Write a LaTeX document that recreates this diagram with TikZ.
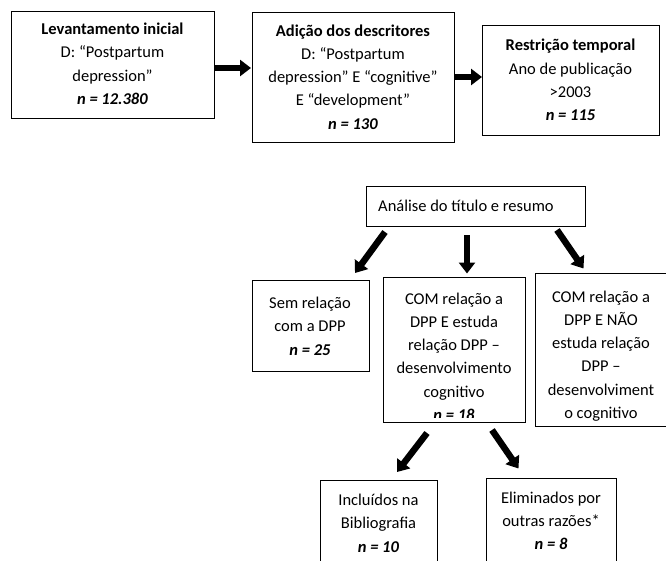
\documentclass[tikz,border=0pt]{standalone}
\usepackage{fontspec}
\setmainfont{Carlito}
\usetikzlibrary{arrows.meta}
\tikzset{
  box/.style={draw=black, line width=0.9pt, inner sep=0pt, anchor=north west},
  txt/.style={inner sep=0pt, anchor=base, text=black, font=\fontsize{16.5}{23.3}\selectfont},
  fat/.style={line width=6.5pt, -{Triangle[width=16pt,length=11pt]}},
}
\newcommand{\nb}[1]{\textbf{\textit{#1}}}
\newcommand{\lines}[1]{\setlength{\tabcolsep}{0pt}\begin{tabular}[t]{c}#1\end{tabular}}
\begin{document}
\begin{tikzpicture}[x=1pt,y=-1pt]
\useasboundingbox (0,0) rectangle (666,560);
\begin{scope}
\clip (0,0) rectangle (666,560);
% top row boxes
\node[box, minimum width=203pt, minimum height=107pt] (b1) at (11,11) {};
\node[box, minimum width=202pt, minimum height=130pt] (b2) at (252,12) {};
\node[box, minimum width=177pt, minimum height=110pt] (b3) at (482,25) {};
\node[txt] (t1) at (112.5,34.5) {\lines{\textbf{Levantamento inicial}\\D: “Postpartum\\depression”\\\nb{n = 12.380}}};
\node[txt] (t2) at (353,36) {\lines{\textbf{Adição dos descritores}\\D: “Postpartum\\depression” E “cognitive”\\E “development”\\\nb{n = 130}}};
\node[txt] (t3) at (570.5,50.7) {\lines{\textbf{Restrição temporal}\\Ano de publicação\\>2003\\\nb{n = 115}}};
% top arrows
\coordinate (a1s) at (215,68); \coordinate (a1e) at (251,68);
\coordinate (a2s) at (455,77); \coordinate (a2e) at (482,77);
\draw[fat] (a1s) -- (a1e);
\draw[fat] (a2s) -- (a2e);
% analysis box
\node[box, minimum width=219pt, minimum height=40pt] (ba) at (366,186) {};
\node[txt, anchor=base west] (ta) at (378,211.5) {Análise do título e resumo};
% second level
\node[box, minimum width=117pt, minimum height=90.5pt] (bs) at (252,280) {};
\node[txt] (ts) at (310,308.5) {\lines{Sem relação\\com a DPP\\\nb{n = 25}}};
\begin{scope}
\clip (383,277) rectangle (525,417);
\node[txt] (tm) at (454,304) {\lines{COM relação a\\DPP E estuda\\relação DPP –\\desenvolvimento\\cognitivo\\\nb{n = 18}}};
\end{scope}
\node[box, minimum width=142pt, minimum height=145pt] (bm) at (383,277) {};
\node[box, minimum width=130.5pt, minimum height=153pt] (br) at (535,273) {};
\node[txt] (tr) at (601,302) {\lines{COM relação a\\DPP E NÃO\\estuda relação\\DPP –\\desenvolviment\\o cognitivo}};
% arrows from analysis
\coordinate (l1s) at (385,232); \coordinate (l1e) at (355,273);
\coordinate (m1s) at (467,235); \coordinate (m1e) at (467,273.5);
\coordinate (r1s) at (557,230); \coordinate (r1e) at (583.5,268.5);
\draw[fat] (l1s) -- (l1e);
\draw[fat] (m1s) -- (m1e);
\draw[fat] (r1s) -- (r1e);
% third level
\node[box, minimum width=117pt, minimum height=100pt] (bi) at (320,480) {};
\node[txt] (ti) at (378.5,505.5) {\lines{Incluídos na\\Bibliografia\\\nb{n = 10}}};
\node[box, minimum width=130pt, minimum height=100pt] (be) at (486,478) {};
\node[txt] (te) at (551,503) {\lines{Eliminados por\\outras razões*\\\nb{n = 8}}};
\coordinate (l2s) at (427,433); \coordinate (l2e) at (397,472);
\coordinate (r2s) at (492,430); \coordinate (r2e) at (518.5,468.5);
\draw[fat] (l2s) -- (l2e);
\draw[fat] (r2s) -- (r2e);
\end{scope}
\end{tikzpicture}
\end{document}
